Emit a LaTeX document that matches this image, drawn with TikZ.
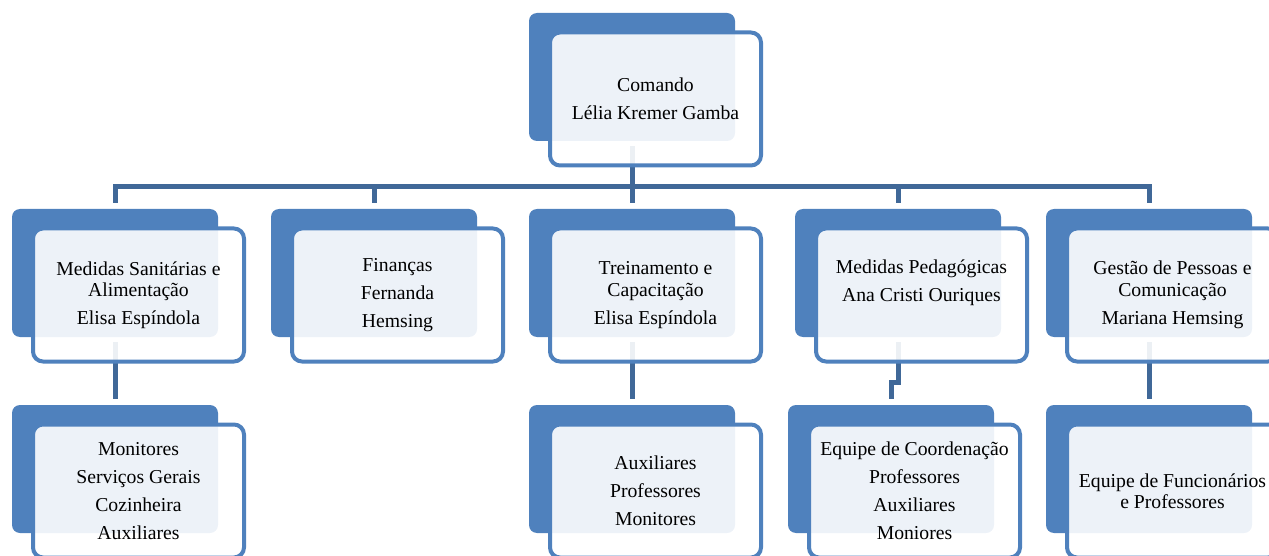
\documentclass[tikz,border=0pt]{standalone}
\usepackage{fontspec}
\setmainfont{Liberation Serif}
\usepackage{tikz}
\usetikzlibrary{calc}

\definecolor{boxblue}{RGB}{79,129,189}
\definecolor{linkblue}{RGB}{64,104,152}

\begin{document}
\begin{tikzpicture}[x=1pt,y=-1pt,
		back/.style={fill=boxblue, rounded corners=8pt, minimum width=206pt, minimum height=128pt, inner sep=0pt},
		front/.style={draw=boxblue, line width=4pt, fill=white, fill opacity=0.9, text opacity=1, rounded corners=10pt, minimum width=211pt, minimum height=133pt, inner sep=0pt, align=center, font=\fontsize{19.7}{21.5}\selectfont},
		link/.style={draw=linkblue, line width=5pt}]
		\clip (0,0) rectangle (1269,556);

		% back boxes
		\node[back] (cmdB) at (632,77) {};
		\node[back] (sanB) at (115,273) {};
		\node[back] (finB) at (374,273) {};
		\node[back] (treB) at (632,273) {};
		\node[back] (pedB) at (898,273) {};
		\node[back] (gesB) at (1149,273) {};
		\node[back] (monB) at (115,469) {};
		\node[back] (auxB) at (632,469) {};
		\node[back] (coordB) at (891,469) {};
		\node[back] (funcB) at (1149,469) {};

		% connectors
		\coordinate (bus) at (632,186.5);
		\draw[link] ([yshift=-5pt]cmdB.south) -- (bus);
		\draw[link] (bus) -| ([yshift=6pt]sanB.north);
		\draw[link] (bus) -| ([yshift=6pt]finB.north);
		\draw[link] (bus) -- ([yshift=6pt]treB.north);
		\draw[link] (bus) -| ([yshift=6pt]pedB.north);
		\draw[link] (bus) -| ([yshift=6pt]gesB.north);
		\draw[link] ([yshift=-5pt]sanB.south) -- ([yshift=6pt]monB.north);
		\draw[link] ([yshift=-5pt]treB.south) -- ([yshift=6pt]auxB.north);
		\draw[link] ([yshift=-5pt]pedB.south) -- ++(0,40) -| ([yshift=6pt]coordB.north);
		\draw[link] ([yshift=-5pt]gesB.south) -- ([yshift=6pt]funcB.north);

		% front boxes
		\node[front] (cmd) at (655.5,99) {Comando\\[6.5pt]Lélia Kremer Gamba};
		\node[front] (san) at (138.5,295) {Medidas Sanitárias e\\Alimentação\\[6.5pt]Elisa Espíndola};
		\node[front] (fin) at (397.5,295) {Finanças\\[6.5pt]Fernanda\\[6.5pt]Hemsing};
		\node[front] (tre) at (655.5,295) {Treinamento e\\Capacitação\\[6.5pt]Elisa Espíndola};
		\node[front] (ped) at (921.5,295) {Medidas Pedagógicas\\[6.5pt]Ana Cristi Ouriques\\[6.5pt]\mbox{}};
		\node[front] (ges) at (1172.5,295) {Gestão de Pessoas e\\Comunicação\\[6.5pt]Mariana Hemsing};
		\node[front] (mon) at (138.5,491) {Monitores\\[6.5pt]Serviços Gerais\\[6.5pt]Cozinheira\\[6.5pt]Auxiliares};
		\node[front] (aux) at (655.5,491) {Auxiliares\\[6.5pt]Professores\\[6.5pt]Monitores};
		\node[front] (coord) at (914.5,491) {Equipe de Coordenação\\[6.5pt]Professores\\[6.5pt]Auxiliares\\[6.5pt]Moniores};
		\node[front] (func) at (1172.5,491) {Equipe de Funcionários\\e Professores};
	\end{tikzpicture}
\end{document}
